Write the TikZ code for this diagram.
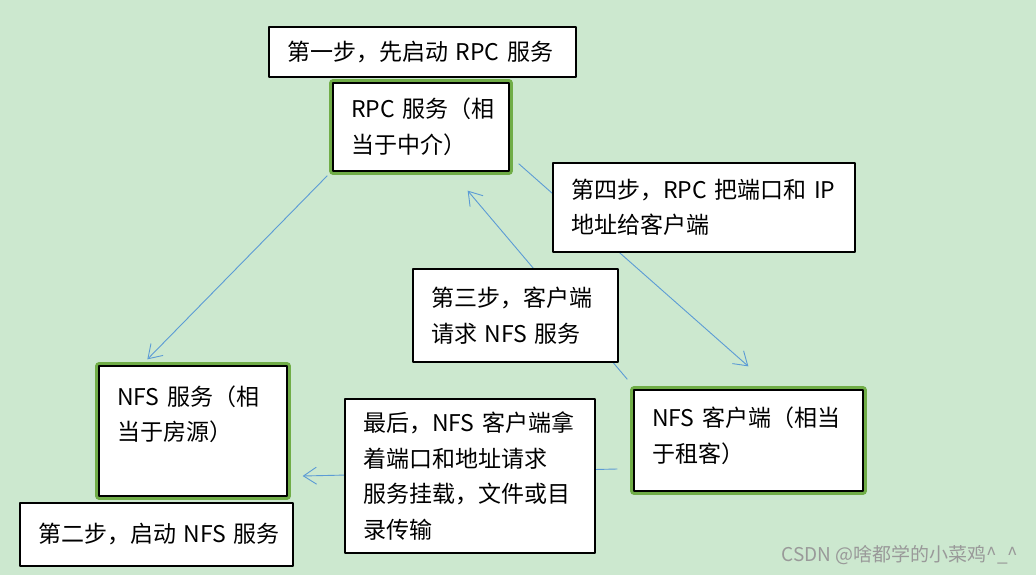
\documentclass[tikz,border=0pt]{standalone}
\usepackage{fontspec}
\setmainfont{Noto Sans CJK SC}
\usetikzlibrary{arrows.meta}
\definecolor{bggreen}{RGB}{204,232,207}
\definecolor{framegreen}{RGB}{112,173,71}
\definecolor{linkblue}{RGB}{91,155,213}
\begin{document}
\begin{tikzpicture}[x=1pt,y=-1pt,>={Straight Barb[length=13pt,width=17pt]},
    font=\fontsize{23}{35.5}\selectfont, line join=round,
    stepbox/.style={draw=black, fill=white, line width=1.3pt, inner xsep=18pt, inner ysep=0pt, align=left},
    mainbox/.style={stepbox, preaction={draw=framegreen, line width=7.5pt}},
    link/.style={->, draw=linkblue, line width=0.9pt}]
  \fill[bggreen] (0,0) rectangle (1036,575);
  %\draw[gray!40] (0,0) grid (1036,575);
  \node[mainbox, minimum width=176, minimum height=88, text width=140pt] (rpc) at (421,127) {RPC~服务（相\\当于中介）};
  \node[mainbox, minimum width=188, minimum height=130, text width=152pt] (nfs) at (193,431) {NFS~服务（相\\当于房源）\\ \mbox{}};
  \node[mainbox, minimum width=229, minimum height=101, text width=193pt] (client) at (748.5,440.5) {NFS~客户端（相当\\于租客）\\[-24pt] \mbox{}};
  \draw[link] ([xshift=-5pt,yshift=-4pt]rpc.south west) -- ([xshift=49pt,yshift=6pt]nfs.north west);
  \draw[link] ([xshift=9pt,yshift=8pt]rpc.south east) -- ([xshift=115pt,yshift=23pt]client.north west);
  \draw[link] ([xshift=-6pt,yshift=10pt]client.north west) -- ([xshift=-42pt,yshift=-19pt]rpc.south east);
  \draw[link] ([xshift=-16pt,yshift=-28.5pt]client.west) -- ([xshift=15pt,yshift=-45pt]nfs.east);
  \node[stepbox, minimum width=307, minimum height=50, text width=271pt] (step1) at (422.5,52) {第一步，先启动~RPC~服务};
  \node[stepbox, minimum width=273, minimum height=63, text width=237pt] (step2) at (156.5,534.5) {第二步，启动~NFS~服务};
  \node[stepbox, minimum width=205, minimum height=93, text width=169pt] (step3) at (515.5,315.5) {第三步，客户端\\请求~NFS~服务};
  \node[stepbox, minimum width=302, minimum height=89, text width=266pt] (step4) at (704,207.5) {第四步，RPC~把端口和~IP\\地址给客户端};
  \node[stepbox, minimum width=250, minimum height=154, text width=214pt] (final) at (470,476) {最后，NFS~客户端拿\\着端口和地址请求\\服务挂载，文件或目\\录传输};
  \node[anchor=east, text=gray!80, font=\fontsize{19}{19}\selectfont] (mark) at (1022,555) {CSDN @啥都学的小菜鸡\textasciicircum\_\textasciicircum};
\end{tikzpicture}
\end{document}
